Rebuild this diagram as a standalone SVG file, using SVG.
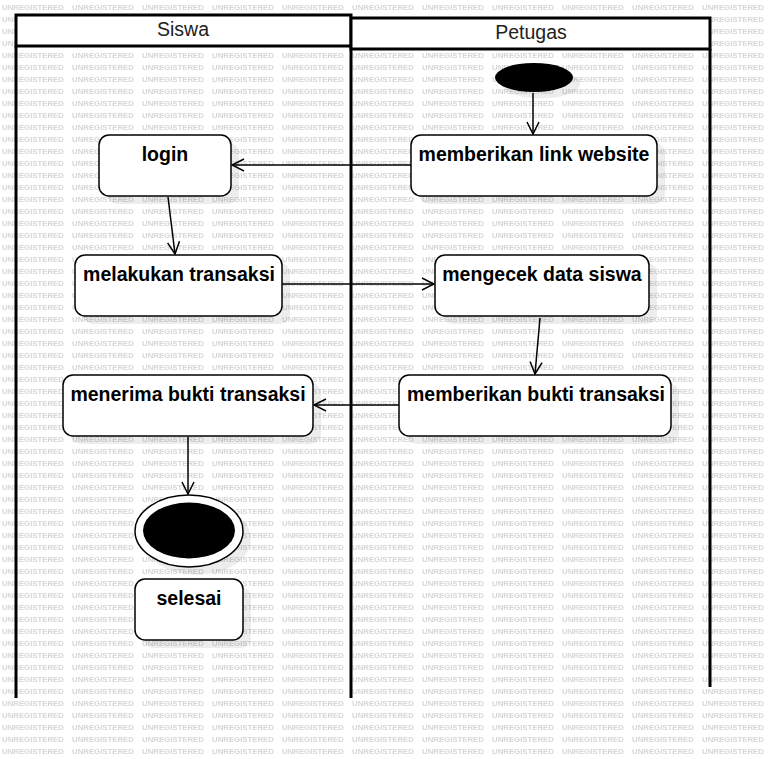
<svg xmlns="http://www.w3.org/2000/svg" width="771" height="759" viewBox="0 0 771 759">
<style>
.wm{font-family:"Liberation Sans",Arial,sans-serif;font-size:7.8px;fill:#d6d6d6;font-weight:bold}
.lane{fill:none;stroke:#000;stroke-width:3}
.hdr{fill:#fff;stroke:#000;stroke-width:3}
.ht{font-family:"Liberation Sans",Arial,sans-serif;font-size:19.5px;fill:#222;text-anchor:middle}
.box{fill:#fff;stroke:#000;stroke-width:1.5}
.sh{fill:#000;opacity:0.07}
.lbl{font-family:"Liberation Sans",Arial,sans-serif;font-size:19.5px;font-weight:bold;fill:#000;text-anchor:middle}
.edge{fill:none;stroke:#000;stroke-width:1.5;marker-end:url(#arr)}
</style>
<defs>
<pattern id="wmp" patternUnits="userSpaceOnUse" x="0" y="0" width="70" height="12">
<text class="wm" x="2" y="10">UNREGISTERED</text>
</pattern>
<marker id="arr" viewBox="0 0 14 14" refX="13" refY="7" markerWidth="14" markerHeight="14" markerUnits="userSpaceOnUse" orient="auto">
<path d="M1,1 L13,7 L1,13" fill="none" stroke="#000" stroke-width="1.5"/>
</marker>
</defs>
<rect x="0" y="0" width="771" height="759" fill="#fff"/>
<rect x="0" y="0" width="771" height="759" fill="url(#wmp)"/>

<g id="lane-siswa">
<line class="lane" x1="16" y1="46" x2="16" y2="698"/>
<rect class="hdr" x="16" y="15" width="335" height="31"/>
<text class="ht" x="183" y="36">Siswa</text>
</g>
<g id="lane-petugas">
<line class="lane" x1="351" y1="46" x2="351" y2="698"/>
<line class="lane" x1="710" y1="49" x2="710" y2="687"/>
<rect class="hdr" x="351" y="18" width="359" height="31"/>
<text class="ht" x="531" y="39">Petugas</text>
</g>

<g id="start">
<ellipse class="sh" cx="541" cy="84" rx="39" ry="14.5"/>
<ellipse cx="534" cy="77.5" rx="39" ry="14.5" fill="#000"/>
</g>

<g id="n-link">
<rect class="sh" x="419" y="143" width="246" height="61" rx="10"/>
<rect class="box" x="411" y="135" width="246" height="61" rx="10"/>
<text class="lbl" x="534" y="161">memberikan link website</text>
</g>
<g id="n-login">
<rect class="sh" x="107" y="143" width="132" height="61" rx="10"/>
<rect class="box" x="99" y="135" width="132" height="61" rx="10"/>
<text class="lbl" x="165" y="161">login</text>
</g>
<g id="n-transaksi">
<rect class="sh" x="83" y="263" width="207" height="61" rx="10"/>
<rect class="box" x="75" y="255" width="207" height="61" rx="10"/>
<text class="lbl" x="179" y="281">melakukan transaksi</text>
</g>
<g id="n-cek">
<rect class="sh" x="443" y="263" width="214" height="61" rx="10"/>
<rect class="box" x="435" y="255" width="214" height="61" rx="10"/>
<text class="lbl" x="542" y="281">mengecek data siswa</text>
</g>
<g id="n-beribukti">
<rect class="sh" x="407" y="383" width="272" height="61" rx="10"/>
<rect class="box" x="399" y="375" width="272" height="61" rx="10"/>
<text class="lbl" x="536" y="401">memberikan bukti transaksi</text>
</g>
<g id="n-terimabukti">
<rect class="sh" x="71" y="383" width="250" height="61" rx="10"/>
<rect class="box" x="63" y="375" width="250" height="61" rx="10"/>
<text class="lbl" x="188" y="401">menerima bukti transaksi</text>
</g>
<g id="end">
<ellipse class="sh" cx="197" cy="539" rx="54" ry="36"/>
<ellipse cx="189" cy="531" rx="54" ry="36" fill="#fff" stroke="#000" stroke-width="1.5"/>
<ellipse cx="189" cy="530.5" rx="46" ry="28" fill="#000"/>
</g>
<g id="n-selesai">
<rect class="sh" x="143" y="587" width="108" height="61" rx="10"/>
<rect class="box" x="135" y="579" width="108" height="61" rx="10"/>
<text class="lbl" x="189" y="605">selesai</text>
</g>

<g id="connectors">
<path class="edge" d="M533,93 L533,134"/>
<path class="edge" d="M411,165 L232,165"/>
<path class="edge" d="M168,197 L175,254"/>
<path class="edge" d="M282,284 L434,284"/>
<path class="edge" d="M540,318 L535,374"/>
<path class="edge" d="M399,405 L314,405"/>
<path class="edge" d="M188,437 L188,494"/>
</g>
</svg>
